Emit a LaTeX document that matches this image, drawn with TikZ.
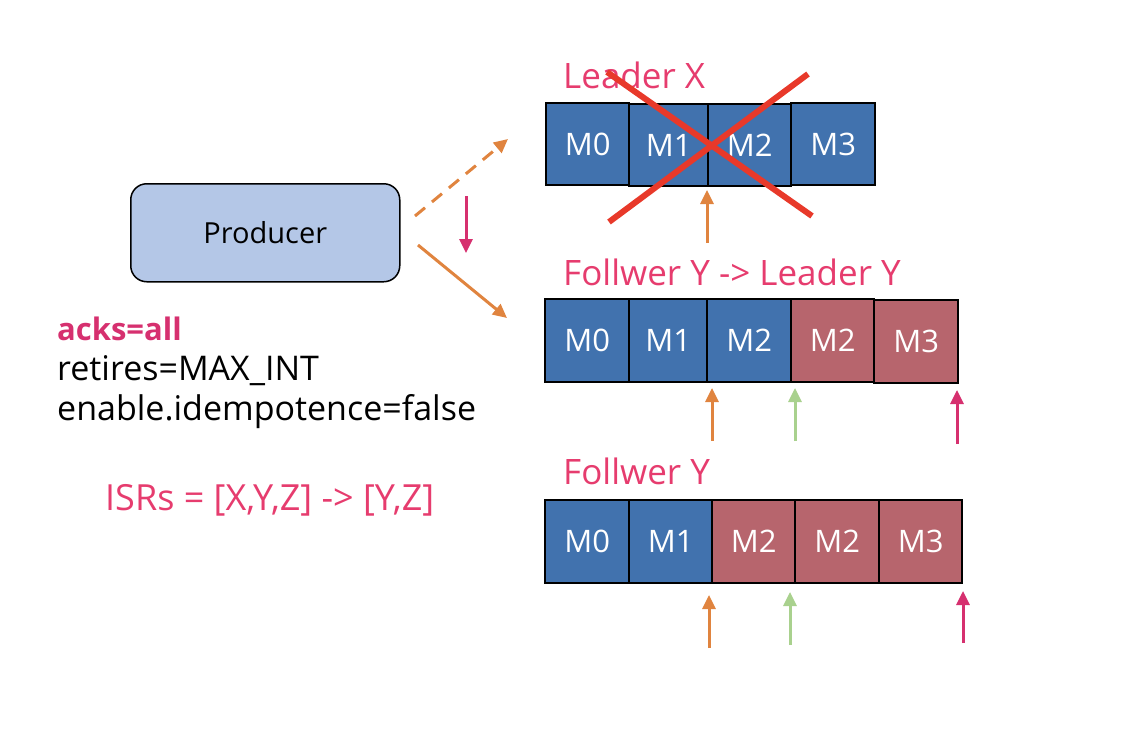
\documentclass[tikz,border=0pt]{standalone}
\usepackage{fontspec}
\setmainfont{Open Sans}
\usetikzlibrary{arrows.meta}
\definecolor{cblue}{HTML}{4172AE}
\definecolor{cred}{HTML}{B7656D}
\definecolor{lbl}{HTML}{E63C6E}
\definecolor{mag}{HTML}{D6306F}
\definecolor{org}{HTML}{E0843F}
\definecolor{grn}{HTML}{A9D18E}
\definecolor{xred}{HTML}{E8392A}
\definecolor{prod}{HTML}{B4C7E7}
\tikzset{
  cellbox/.style={draw=black, line width=2.3pt, anchor=north west, text=white,
    font=\fontsize{31}{34}\selectfont, inner sep=0pt},
  cb/.style={cellbox, fill=cblue},
  cr/.style={cellbox, fill=cred},
  lab/.style={anchor=west, text=lbl, font=\fontsize{35}{38}\selectfont, inner sep=0pt},
  arr/.style={line width=3pt, -{Triangle[length=14pt,width=13pt]}},
  cross/.style={draw=xred, line width=6pt},
  side/.style={anchor=west, inner sep=0pt, font=\fontsize{34}{38}\selectfont},
}
\begin{document}
\begin{tikzpicture}[x=1pt,y=-1pt]
\useasboundingbox (0,0) rectangle (1144,734);
% producer
\node[draw=black, line width=1.5pt, fill=prod, rounded corners=16pt, minimum width=269, minimum height=98,
  anchor=north west, font=\fontsize{29}{32}\selectfont] (prod) at (130,183) {Producer};
% left texts
\node[side, text=mag, font=\fontsize{31}{34}\selectfont\bfseries] (acks) at (57,329) {acks=all};
\node[side] (ret) at (57,371) {retires=MAX\_INT};
\node[side] (idem) at (57,412) {enable.idempotence=false};
\node[side, text=lbl, font=\fontsize{36}{40}\selectfont] (isr) at (105,500) {ISRs = [X,Y,Z] -> [Y,Z]};
% row 1
\node[lab] (l1) at (563,75) {Leader X};
\node[cb, minimum width=83, minimum height=82] (a0) at (545,102) {M0};
\node[cb, minimum width=79, minimum height=82] (a1) at (628,103) {M1};
\node[cb, minimum width=83, minimum height=82] (a2) at (707,103) {M2};
\node[cb, minimum width=84, minimum height=82] (a3) at (790,102) {M3};
\coordinate (x1a) at (607,72); \coordinate (x1b) at (812,216);
\coordinate (x2a) at (808,74); \coordinate (x2b) at (609,222);
\draw[cross] (x1a) -- (x1b);
\draw[cross] (x2a) -- (x2b);
\coordinate (p1s) at (707,243); \coordinate (p1e) at (707,190);
\draw[arr, org] (p1s) -- (p1e);
% producer arrows
\coordinate (d1s) at (415,216); \coordinate (d1e) at (508,139);
\draw[arr, org, dash pattern=on 13pt off 9pt] (d1s) -- (d1e);
\coordinate (d2s) at (418,245); \coordinate (d2e) at (507,318);
\draw[arr, org] (d2s) -- (d2e);
\coordinate (m1s) at (466,196); \coordinate (m1e) at (466,253);
\draw[arr, mag] (m1s) -- (m1e);
% row 2
\node[lab] (l2) at (563,272) {Follwer Y -> Leader Y};
\node[cb, minimum width=84, minimum height=83] (b0) at (544,298) {M0};
\node[cb, minimum width=78, minimum height=83] (b1) at (628,298) {M1};
\node[cb, minimum width=84, minimum height=83] (b2) at (706,298) {M2};
\node[cr, minimum width=83, minimum height=83] (b3) at (790,298) {M2};
\node[cr, minimum width=84, minimum height=83] (b4) at (873,299) {M3};
\coordinate (q1s) at (712,441); \coordinate (q1e) at (712,388);
\coordinate (q2s) at (795,441); \coordinate (q2e) at (795,388);
\coordinate (q3s) at (957,444); \coordinate (q3e) at (957,390);
\draw[arr, org] (q1s) -- (q1e);
\draw[arr, grn] (q2s) -- (q2e);
\draw[arr, mag] (q3s) -- (q3e);
% row 3
\node[lab] (l3) at (563,471) {Follwer Y};
\node[cb, minimum width=84, minimum height=83] (c0) at (544,499) {M0};
\node[cb, minimum width=83, minimum height=83] (c1) at (628,499) {M1};
\node[cr, minimum width=83, minimum height=83] (c2) at (711,499) {M2};
\node[cr, minimum width=84, minimum height=83] (c3) at (794,499) {M2};
\node[cr, minimum width=83, minimum height=83] (c4) at (878,499) {M3};
\coordinate (r1s) at (709,648); \coordinate (r1e) at (709,595);
\coordinate (r2s) at (790,645); \coordinate (r2e) at (790,592);
\coordinate (r3s) at (963,643); \coordinate (r3e) at (963,591);
\draw[arr, org] (r1s) -- (r1e);
\draw[arr, grn] (r2s) -- (r2e);
\draw[arr, mag] (r3s) -- (r3e);
\end{tikzpicture}
\end{document}
